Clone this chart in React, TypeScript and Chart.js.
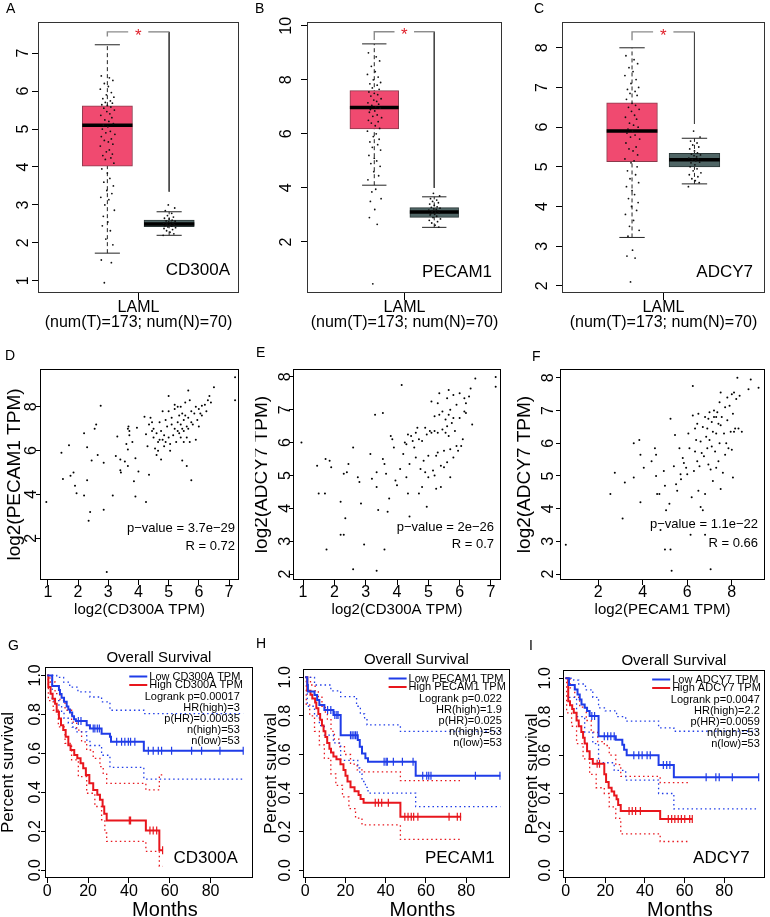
import React, { useEffect, useRef } from 'react';
import { Chart, registerables } from 'chart.js';
Chart.register(...registerables);

const FONT = '"Liberation Sans", Arial, Helvetica, sans-serif';
const BLUE = '#1f3ce8';
const RED = '#e8161d';
const TUMOR_FILL = '#f04a70';
const NORMAL_FILL = '#4f6565';

// ---------------- Row 1 : expression box plots ----------------
const BOX_CATEGORY = ['LAML', '(num(T)=173; num(N)=70)'];
const BOX_POS = [1.38, 2.61]; // tumor, normal
// [lower whisker, q1, median, q3, upper whisker]
const TUMOR_STATS_A = [1.73, 4.02, 5.1, 5.61, 7.22];
const NORMAL_STATS_A = [2.2, 2.43, 2.5, 2.6, 2.82];
const TUMOR_STATS_B = [4.1, 6.18, 6.98, 7.6, 9.33];
const NORMAL_STATS_B = [2.54, 2.91, 3.11, 3.27, 3.67];
const TUMOR_STATS_C = [3.22, 5.13, 5.9, 6.61, 8.0];
const NORMAL_STATS_C = [4.57, 5.0, 5.18, 5.34, 5.72];
// [bracket top, left leg end, right leg end]
const BRACKET_A = [7.56, 7.44, 3.35];
const BRACKET_B = [9.78, 9.47, 4.0];
const BRACKET_C = [8.4, 8.19, 6.08];
const Y_TICKS_A = [1, 2, 3, 4, 5, 6, 7];
const Y_TICKS_B = [2, 4, 6, 8, 10];
const Y_TICKS_C = [2, 3, 4, 5, 6, 7, 8];

const JITTER = [-0.12, 0.04, 0.11, -0.06, 0.02, -0.14, 0.08, -0.02, 0.13, -0.09, 0.06, -0.04, 0.1, -0.11, 0.0, 0.07,
  -0.07, 0.14, -0.01, 0.05, -0.13, 0.09, -0.05, 0.03, 0.12, -0.08, 0.01, -0.1, 0.06, -0.03, 0.15, -0.12,
  0.08, -0.06, 0.02, 0.11, -0.14, 0.04, -0.02, 0.1, -0.09, 0.07, -0.04, 0.13, -0.11, 0.0, 0.05, -0.07,
  0.12, -0.01, 0.09, -0.13, 0.03, -0.05, 0.14, -0.08, 0.01, -0.1, 0.06, -0.03, 0.11, -0.12, 0.08, -0.06];

const TUMOR_POINTS_A = [6.4, 6.35, 6.28, 6.2, 6.12, 6.05, 5.96, 5.9, 5.84, 5.8, 5.74, 5.7, 5.68, 5.64, 5.62, 5.58,
  5.55, 5.5, 5.46, 5.4, 5.36, 5.3, 5.24, 5.2, 5.14, 5.1, 5.06, 5.0, 4.94, 4.9, 4.86, 4.8, 4.74, 4.7, 4.66, 4.6,
  4.55, 4.45, 4.4, 4.34, 4.3, 4.24, 4.2, 4.1, 3.95, 3.84, 3.7, 3.6, 3.5, 3.38, 3.3, 3.2, 3.14, 3.0, 2.86, 2.7,
  2.55, 2.45, 2.32, 2.1, 1.95, 1.55, 1.48, 0.95];
const NORMAL_POINTS_A = [3.0, 2.92, 2.85, 2.78, 2.72, 2.68, 2.65, 2.63, 2.6, 2.58, 2.57, 2.55, 2.54, 2.52, 2.51,
  2.5, 2.49, 2.48, 2.47, 2.46, 2.45, 2.44, 2.42, 2.4, 2.38, 2.35, 2.32, 2.28, 2.24, 2.2];
const TUMOR_POINTS_B = [9.0, 8.85, 8.7, 8.5, 8.3, 8.2, 8.1, 8.0, 7.9, 7.85, 7.8, 7.7, 7.65, 7.55, 7.5, 7.45, 7.4,
  7.3, 7.25, 7.2, 7.15, 7.1, 7.05, 7.0, 6.95, 6.9, 6.85, 6.8, 6.7, 6.65, 6.6, 6.5, 6.45, 6.4, 6.3, 6.2, 6.1, 6.0,
  5.9, 5.8, 5.7, 5.6, 5.5, 5.4, 5.2, 5.1, 5.0, 4.9, 4.8, 4.6, 4.45, 4.3, 3.95, 3.85, 3.6, 3.5, 3.2, 2.9, 2.65, 0.45];
const NORMAL_POINTS_B = [3.8, 3.7, 3.6, 3.55, 3.5, 3.45, 3.4, 3.35, 3.3, 3.28, 3.25, 3.22, 3.2, 3.18, 3.15, 3.12,
  3.1, 3.08, 3.05, 3.02, 3.0, 2.95, 2.9, 2.85, 2.8, 2.75, 2.7, 2.62, 2.55];
const TUMOR_POINTS_C = [7.8, 7.7, 7.6, 7.5, 7.4, 7.3, 7.2, 7.1, 7.0, 6.95, 6.9, 6.85, 6.8, 6.7, 6.6, 6.55, 6.5,
  6.45, 6.4, 6.3, 6.25, 6.2, 6.1, 6.05, 6.0, 5.95, 5.9, 5.85, 5.8, 5.75, 5.7, 5.6, 5.5, 5.45, 5.4, 5.3, 5.2, 5.15,
  5.1, 5.0, 4.9, 4.8, 4.7, 4.6, 4.5, 4.4, 4.3, 4.2, 4.1, 4.0, 3.9, 3.8, 3.65, 3.5, 3.4, 3.25, 2.9, 2.75, 2.7, 2.1];
const NORMAL_POINTS_C = [5.9, 5.75, 5.65, 5.6, 5.55, 5.5, 5.45, 5.4, 5.35, 5.32, 5.3, 5.28, 5.25, 5.22, 5.2, 5.18,
  5.15, 5.12, 5.1, 5.05, 5.0, 4.95, 4.9, 4.85, 4.8, 4.75, 4.7, 4.65, 4.6, 4.5];

// ---------------- Row 2 : correlation scatter ----------------
const D_POINTS: [number, number][] = [
  [0.95, 3.65], [1.45, 5.9], [1.5, 4.7], [1.7, 6.25], [1.75, 4.85], [1.85, 5.0], [1.9, 4.4], [1.95, 4.05], [2.2, 6.8],
  [2.2, 3.95], [2.3, 6.15], [2.3, 4.65], [2.35, 2.8], [2.4, 3.2], [2.45, 5.55], [2.55, 7.0], [2.6, 7.2], [2.65, 5.8],
  [2.75, 8.05], [2.85, 5.45], [2.85, 3.3], [2.95, 0.45], [3.15, 3.95], [3.25, 5.75], [3.3, 6.65], [3.4, 5.6], [3.4, 5.1],
  [3.42, 5.0], [3.55, 5.5], [3.6, 6.3], [3.65, 7.0], [3.67, 7.1], [3.7, 6.9], [3.7, 6.7], [3.65, 6.05], [3.65, 5.3],
  [3.8, 6.4], [3.85, 4.6], [3.9, 5.65], [3.9, 3.9], [3.95, 7.05], [4.0, 5.05], [4.2, 7.55], [4.25, 6.75], [4.3, 6.2],
  [4.25, 3.65], [4.35, 7.2], [4.35, 4.9], [4.4, 7.5], [4.45, 7.3], [4.45, 6.9], [4.5, 7.0], [4.5, 6.6], [4.55, 6.1],
  [4.6, 6.8], [4.6, 5.8], [4.65, 6.4], [4.65, 6.0], [4.7, 7.3], [4.7, 6.5], [4.75, 5.6], [4.75, 6.9], [4.8, 7.8],
  [4.8, 6.5], [4.85, 6.2], [4.85, 6.7], [4.9, 7.4], [4.9, 6.4], [4.95, 7.1], [5.0, 8.5], [5.0, 7.8], [5.0, 6.6],
  [5.05, 6.3], [5.05, 6.0], [5.1, 7.2], [5.1, 7.5], [5.15, 6.7], [5.2, 7.9], [5.2, 8.1], [5.2, 7.0], [5.25, 6.4],
  [5.3, 8.0], [5.3, 7.3], [5.3, 6.9], [5.35, 7.6], [5.35, 6.8], [5.4, 8.0], [5.4, 7.2], [5.4, 6.6], [5.45, 7.7],
  [5.45, 7.0], [5.45, 5.55], [5.5, 7.4], [5.5, 6.9], [5.5, 6.4], [5.55, 8.2], [5.55, 7.6], [5.6, 7.1], [5.6, 6.6],
  [5.6, 5.3], [5.65, 8.75], [5.65, 7.5], [5.65, 7.0], [5.7, 8.3], [5.7, 6.4], [5.75, 7.3], [5.75, 7.8], [5.75, 4.65],
  [5.8, 7.2], [5.85, 7.7], [5.9, 8.0], [5.9, 6.5], [5.95, 7.4], [6.0, 7.9], [6.0, 7.1], [6.05, 7.7], [6.1, 8.05],
  [6.1, 7.6], [6.2, 8.1], [6.25, 7.8], [6.3, 8.3], [6.35, 8.5], [6.4, 8.2], [6.5, 8.9], [7.2, 9.35], [7.2, 8.3]];
const E_POINTS: [number, number][] = [
  [0.95, 6.0], [1.45, 5.3], [1.5, 4.45], [1.7, 4.45], [1.72, 5.5], [1.75, 2.75], [1.85, 5.45], [1.9, 5.25], [2.2, 4.2],
  [2.2, 3.2], [2.3, 3.2], [2.3, 5.05], [2.35, 3.7], [2.4, 5.1], [2.45, 5.35], [2.6, 5.85], [2.6, 2.15], [2.75, 4.95],
  [2.8, 4.8], [2.85, 4.15], [2.95, 2.9], [3.15, 5.65], [3.2, 4.9], [3.3, 6.85], [3.35, 5.1], [3.35, 4.65], [3.4, 3.95],
  [3.35, 2.1], [3.55, 6.9], [3.55, 5.5], [3.6, 5.35], [3.65, 5.05], [3.6, 2.75], [3.7, 3.9], [3.75, 4.3], [3.8, 6.2],
  [3.85, 6.1], [3.9, 5.85], [3.95, 4.85], [4.0, 4.7], [4.1, 5.2], [4.15, 7.75], [4.2, 5.65], [4.25, 6.0], [4.3, 5.95],
  [4.3, 4.95], [4.35, 6.25], [4.35, 4.45], [4.4, 3.75], [4.4, 5.35], [4.45, 6.2], [4.5, 6.05], [4.55, 5.85], [4.6, 6.3],
  [4.6, 5.55], [4.65, 6.45], [4.7, 6.1], [4.7, 4.45], [4.75, 5.2], [4.8, 6.05], [4.8, 4.65], [4.85, 5.45], [4.9, 6.45],
  [4.9, 5.1], [4.95, 6.25], [4.95, 4.05], [5.0, 5.6], [5.0, 4.95], [5.05, 6.35], [5.1, 7.25], [5.1, 6.3], [5.15, 5.15],
  [5.2, 6.8], [5.2, 6.35], [5.2, 5.0], [5.25, 5.6], [5.25, 4.6], [5.3, 7.2], [5.3, 6.3], [5.3, 5.7], [5.35, 7.5],
  [5.35, 6.85], [5.4, 5.3], [5.4, 4.65], [5.45, 6.95], [5.45, 6.4], [5.5, 5.75], [5.5, 5.25], [5.55, 6.7], [5.55, 6.3],
  [5.6, 7.35], [5.6, 6.5], [5.6, 5.4], [5.65, 7.6], [5.65, 6.85], [5.65, 6.2], [5.7, 7.0], [5.7, 5.8], [5.7, 4.95],
  [5.75, 6.6], [5.8, 7.45], [5.8, 6.75], [5.8, 5.55], [5.85, 6.35], [5.9, 7.15], [5.9, 5.9], [5.95, 5.75], [6.0, 7.5],
  [6.0, 6.75], [6.05, 5.9], [6.1, 6.1], [6.15, 7.35], [6.15, 6.95], [6.2, 7.2], [6.2, 6.9], [6.3, 7.4], [6.35, 7.65],
  [6.4, 6.55], [6.5, 7.95], [7.15, 8.0], [7.15, 7.7]];
const F_POINTS: [number, number][] = [
  [0.55, 2.9], [2.55, 4.45], [2.75, 5.1], [3.1, 3.7], [3.2, 4.8], [3.6, 6.0], [3.6, 4.95], [3.85, 6.1], [3.9, 5.65],
  [3.9, 4.2], [4.05, 5.25], [4.4, 5.45], [4.55, 5.85], [4.6, 5.65], [4.6, 5.0], [4.65, 4.45], [4.75, 4.45], [4.8, 3.35],
  [4.95, 5.15], [5.0, 4.7], [5.05, 3.95], [5.0, 2.75], [5.2, 4.15], [5.25, 6.75], [5.25, 2.75], [5.3, 2.1], [5.4, 5.3],
  [5.45, 6.25], [5.5, 4.75], [5.55, 4.55], [5.65, 5.85], [5.7, 5.05], [5.72, 4.9], [5.8, 5.55], [5.85, 5.4], [5.95, 5.25],
  [6.0, 5.05], [6.05, 6.3], [6.1, 5.85], [6.15, 3.2], [6.2, 4.35], [6.25, 7.75], [6.25, 6.85], [6.3, 5.15], [6.35, 6.45],
  [6.35, 5.75], [6.4, 6.1], [6.45, 6.6], [6.45, 5.45], [6.5, 6.9], [6.5, 4.55], [6.55, 5.3], [6.6, 6.05], [6.6, 4.05],
  [6.65, 5.7], [6.7, 6.5], [6.7, 3.95], [6.75, 5.6], [6.8, 6.8], [6.8, 4.45], [6.8, 3.2], [6.85, 6.2], [6.9, 5.85],
  [6.9, 6.45], [6.95, 6.75], [6.95, 5.35], [7.0, 6.95], [7.0, 6.1], [7.05, 5.2], [7.05, 2.15], [7.1, 6.65], [7.1, 5.9],
  [7.15, 6.35], [7.15, 4.85], [7.2, 6.8], [7.2, 7.0], [7.25, 5.75], [7.3, 6.3], [7.3, 5.25], [7.3, 6.8], [7.35, 6.95],
  [7.4, 6.6], [7.4, 5.45], [7.45, 7.25], [7.45, 6.0], [7.5, 7.55], [7.5, 6.55], [7.5, 4.6], [7.55, 6.8], [7.6, 5.1],
  [7.65, 6.3], [7.7, 7.1], [7.7, 5.65], [7.75, 6.0], [7.8, 7.4], [7.8, 6.7], [7.85, 5.85], [7.9, 7.15], [7.95, 6.35],
  [8.0, 7.5], [8.0, 5.8], [8.05, 6.9], [8.05, 4.95], [8.1, 7.55], [8.1, 6.35], [8.15, 6.45], [8.2, 7.35], [8.25, 8.0],
  [8.3, 6.45], [8.35, 7.45], [8.45, 6.35], [8.75, 7.65], [8.85, 7.95], [9.2, 7.7]];
const D_X_TICKS = [1, 2, 3, 4, 5, 6, 7];
const D_Y_TICKS = [2, 4, 6, 8];
const E_X_TICKS = [1, 2, 3, 4, 5, 6, 7];
const E_Y_TICKS = [2, 3, 4, 5, 6, 7, 8];
const F_X_TICKS = [2, 4, 6, 8];
const F_Y_TICKS = [2, 3, 4, 5, 6, 7, 8];

// ---------------- Row 3 : survival ----------------
const SURV_X_TICKS = [0, 20, 40, 60, 80];
const SURV_Y_TICKS = [0, 0.2, 0.4, 0.6, 0.8, 1.0];

const LOW_G: [number, number][] = [[0, 1], [2.4, 0.945], [5.7, 0.925], [6.2, 0.905], [7.0, 0.885], [8.2, 0.865], [9.5, 0.84],
  [10.3, 0.825], [11.1, 0.81], [12.2, 0.79], [13.1, 0.775], [14.0, 0.766], [19.3, 0.744], [20.9, 0.727], [26.6, 0.7],
  [30.7, 0.685], [31.2, 0.659], [47.3, 0.613], [96, 0.613]];
const HIGH_G: [number, number][] = [[0, 1], [0.5, 0.94], [1.6, 0.906], [2.6, 0.88], [3.8, 0.855], [4.6, 0.813], [5.7, 0.779],
  [6.7, 0.744], [7.8, 0.719], [9.0, 0.685], [10.3, 0.642], [11.4, 0.617], [13.2, 0.591], [14.7, 0.574], [16.3, 0.549],
  [17.6, 0.523], [18.9, 0.489], [20.6, 0.446], [22.5, 0.412], [24.5, 0.387], [25.8, 0.361], [27.1, 0.327], [27.9, 0.29],
  [29.1, 0.255], [48.3, 0.204], [54.9, 0.102], [56.5, 0.102]];
const LOW_G_CENSOR = [15.2, 16.5, 22.5, 23.3, 24.5, 25.5, 34, 36.4, 38, 39.7, 40.8, 42.9, 49.5, 51.9, 54.4, 56, 60.9, 70.7, 75.6, 84.6, 96];
const HIGH_G_CENSOR = [40.2, 40.8, 50.3, 51.9, 53.6, 56.5];
const LOW_G_UPPER: [number, number][] = [[0, 1], [4.6, 0.99], [8, 0.965], [11, 0.94], [15, 0.915], [20.9, 0.889], [26.6, 0.864],
  [30.7, 0.821], [47.3, 0.804], [96, 0.804]];
const LOW_G_LOWER: [number, number][] = [[0, 1], [2.4, 0.87], [5.7, 0.84], [7, 0.81], [8.2, 0.78], [10.3, 0.755], [12.2, 0.735],
  [14, 0.71], [19.3, 0.668], [20.9, 0.64], [26.6, 0.59], [30.7, 0.528], [47.3, 0.468], [96, 0.468]];
const HIGH_G_UPPER: [number, number][] = [[0, 1], [1.3, 0.966], [3.8, 0.906], [6.2, 0.872], [8.7, 0.821], [11.9, 0.76],
  [14.4, 0.719], [16.8, 0.659], [19.3, 0.617], [22.5, 0.574], [25.8, 0.532], [27.4, 0.497], [29.1, 0.446], [48.3, 0.412],
  [54.9, 0.489], [56.5, 0.489]];
const HIGH_G_LOWER: [number, number][] = [[0, 1], [0.5, 0.87], [2.9, 0.821], [5.4, 0.736], [8.7, 0.651], [11.9, 0.566],
  [15.2, 0.48], [19.3, 0.395], [23.3, 0.327], [26.6, 0.259], [28.2, 0.191], [29.1, 0.148], [48.3, 0.097], [54.9, 0.02],
  [56.5, 0.02]];

const LOW_H: [number, number][] = [[0, 1], [1, 0.96], [1.3, 0.926], [4.6, 0.908], [5.9, 0.882], [7, 0.856], [9.5, 0.83],
  [14, 0.805], [17.6, 0.7], [26.1, 0.675], [27.1, 0.64], [28.2, 0.605], [29.9, 0.58], [31.2, 0.562], [54.9, 0.49], [97, 0.49]];
const HIGH_H: [number, number][] = [[0, 1], [1, 0.93], [2.6, 0.91], [3.5, 0.89], [4.9, 0.87], [5.5, 0.84], [6.5, 0.81],
  [7.4, 0.78], [8.3, 0.75], [9.1, 0.72], [10, 0.69], [10.9, 0.66], [12, 0.63], [12.8, 0.61], [14, 0.59], [15.5, 0.575],
  [17.5, 0.55], [19, 0.52], [20, 0.49], [21, 0.46], [22.5, 0.43], [24.5, 0.41], [26.5, 0.39], [27.5, 0.37], [29, 0.35],
  [47.3, 0.277], [77.5, 0.277]];
const LOW_H_CENSOR = [11.1, 12.7, 14.7, 15.7, 16.3, 22.5, 23.3, 24.2, 25, 25.8, 39.2, 40.2, 40.8, 43.8, 48.3, 53.6, 58.4,
  60.4, 61.4, 62.5, 84.6, 96.8];
const HIGH_H_CENSOR = [34.8, 36.4, 38, 41.3, 49.5, 51.1, 52.7, 53.9, 56, 71.5, 75.6, 77.2];
const LOW_H_UPPER: [number, number][] = [[0, 1], [4.6, 0.96], [12.7, 0.93], [17.6, 0.9], [25.5, 0.85], [27.4, 0.81],
  [29.5, 0.78], [30.7, 0.753], [47.3, 0.72], [97, 0.72]];
const LOW_H_LOWER: [number, number][] = [[0, 1], [1, 0.85], [4.6, 0.8], [7, 0.75], [9.5, 0.7], [14, 0.66], [17.6, 0.57],
  [26.1, 0.53], [27.1, 0.5], [28.2, 0.46], [29.9, 0.43], [31.2, 0.4], [54.9, 0.33], [97, 0.33]];
const HIGH_H_UPPER: [number, number][] = [[0, 1], [2.6, 0.96], [4.9, 0.93], [6.5, 0.9], [8.3, 0.85], [10, 0.81], [11, 0.78],
  [12.8, 0.72], [14.5, 0.68], [16.8, 0.64], [19.5, 0.6], [22.5, 0.55], [25.8, 0.52], [29, 0.51], [47.3, 0.465], [77.5, 0.465]];
const HIGH_H_LOWER: [number, number][] = [[0, 1], [0.5, 0.86], [2.2, 0.8], [4.6, 0.72], [7, 0.65], [9.5, 0.58], [12.7, 0.5],
  [15.2, 0.44], [18.5, 0.38], [21.7, 0.32], [25, 0.27], [28.2, 0.235], [47.3, 0.16], [77.5, 0.16]];

const LOW_I: [number, number][] = [[0, 1], [1.7, 0.965], [4.6, 0.942], [6, 0.916], [7.1, 0.89], [8, 0.864], [9.6, 0.846],
  [10.8, 0.829], [12.1, 0.803], [16.6, 0.698], [25.3, 0.68], [28.6, 0.654], [29.5, 0.628], [30.8, 0.599], [46.9, 0.548],
  [54.6, 0.485], [97.4, 0.485]];
const HIGH_I: [number, number][] = [[0, 1], [1.3, 0.88], [2.2, 0.86], [3.3, 0.84], [4.1, 0.82], [5.5, 0.78], [6.6, 0.75],
  [7.9, 0.72], [8.8, 0.69], [9.6, 0.66], [10.8, 0.62], [12.1, 0.58], [13.7, 0.555], [19.5, 0.5], [20.4, 0.46], [21.7, 0.43],
  [23.2, 0.41], [24.5, 0.39], [25.7, 0.37], [26.5, 0.34], [27.8, 0.309], [47.7, 0.267], [63.9, 0.267]];
const LOW_I_CENSOR = [13.2, 14.6, 19.5, 21.2, 22.8, 24.5, 34.4, 36.9, 38.6, 41.1, 42.7, 49.3, 51, 52.6, 70.9, 75.8, 77.5, 84.1, 97.4];
const HIGH_I_CENSOR = [15.9, 17.1, 32, 33.6, 35.3, 37.7, 51.8, 53.5, 55.1, 56.8, 58.4, 60.1, 62.6, 63.9];
const LOW_I_UPPER: [number, number][] = [[0, 1], [4.1, 0.99], [6.6, 0.97], [10, 0.94], [13.7, 0.9], [16.6, 0.846], [20, 0.83],
  [25.7, 0.8], [30.3, 0.777], [46.9, 0.742], [54.6, 0.724], [97.4, 0.724]];
const LOW_I_LOWER: [number, number][] = [[0, 1], [1.3, 0.9], [5.5, 0.8], [9.6, 0.72], [13.7, 0.66], [16.6, 0.56], [24.5, 0.52],
  [30.3, 0.47], [46.9, 0.4], [54.6, 0.32], [97.4, 0.32]];
const HIGH_I_UPPER: [number, number][] = [[0, 1], [0.5, 1], [2.2, 0.95], [4.6, 0.9], [7.1, 0.85], [10.4, 0.78], [12.9, 0.72],
  [16.2, 0.67], [19.5, 0.65], [22, 0.6], [25.3, 0.55], [27.8, 0.489], [47.7, 0.457], [62.6, 0.457]];
const HIGH_I_LOWER: [number, number][] = [[0, 1], [0.5, 0.82], [3, 0.75], [5.5, 0.66], [8.8, 0.58], [12.1, 0.5], [15.4, 0.43],
  [19.5, 0.4], [22, 0.33], [25.3, 0.27], [27.8, 0.19], [47.7, 0.15], [62.6, 0.15]];

const STATS_G = ['Logrank p=0.00017', 'HR(high)=3', 'p(HR)=0.00035', 'n(high)=53', 'n(low)=53'];
const STATS_H = ['Logrank p=0.022', 'HR(high)=1.9', 'p(HR)=0.025', 'n(high)=53', 'n(low)=53'];
const STATS_I = ['Logrank p=0.0047', 'HR(high)=2.2', 'p(HR)=0.0059', 'n(high)=53', 'n(low)=53'];

// ---------------- layout ----------------
type Geo = { x: number; y: number; w: number; h: number; pl: number; pr: number; pt: number; pb: number };

const GEO_A: Geo = { x: 0, y: 0, w: 255, h: 335, pl: 38, pr: 239, pt: 22, pb: 293 };
const GEO_B: Geo = { x: 255, y: 0, w: 255, h: 335, pl: 52, pr: 247, pt: 22, pb: 293 };
const GEO_C: Geo = { x: 510, y: 0, w: 260, h: 335, pl: 52, pr: 255, pt: 22, pb: 293 };
const GEO_D: Geo = { x: 0, y: 335, w: 255, h: 290, pl: 40, pr: 239, pt: 34, pb: 245 };
const GEO_E: Geo = { x: 255, y: 335, w: 255, h: 290, pl: 38, pr: 246, pt: 34, pb: 245 };
const GEO_F: Geo = { x: 510, y: 335, w: 260, h: 290, pl: 50, pr: 255, pt: 34, pb: 245 };
const GEO_G: Geo = { x: 0, y: 625, w: 258, h: 292, pl: 45, pr: 253, pt: 42, pb: 253 };
const GEO_H: Geo = { x: 258, y: 625, w: 257, h: 292, pl: 45, pr: 255, pt: 44, pb: 253 };
const GEO_I: Geo = { x: 515, y: 625, w: 255, h: 292, pl: 48, pr: 253, pt: 45, pb: 253 };

const LETTERS = [
  { t: 'A', x: 11, y: 8 }, { t: 'B', x: 260, y: 8 }, { t: 'C', x: 539, y: 8 },
  { t: 'D', x: 10, y: 355 }, { t: 'E', x: 261, y: 352 }, { t: 'F', x: 537, y: 356 },
  { t: 'G', x: 13, y: 645 }, { t: 'H', x: 261, y: 643 }, { t: 'I', x: 534, y: 645 },
];

const BOX_PANELS = [
  { geo: GEO_A, gene: 'CD300A', yMin: 0.68, yMax: 7.82, yTicks: Y_TICKS_A, tumor: TUMOR_STATS_A, normal: NORMAL_STATS_A,
    tPts: TUMOR_POINTS_A, nPts: NORMAL_POINTS_A, bracket: BRACKET_A, tickPad: 4.3, geneDx: 9, geneDy: 23 },
  { geo: GEO_B, gene: 'PECAM1', yMin: 0.11, yMax: 10.14, yTicks: Y_TICKS_B, tumor: TUMOR_STATS_B, normal: NORMAL_STATS_B,
    tPts: TUMOR_POINTS_B, nPts: NORMAL_POINTS_B, bracket: BRACKET_B, tickPad: 5.4, geneDx: 10, geneDy: 21 },
  { geo: GEO_C, gene: 'ADCY7', yMin: 1.82, yMax: 8.65, yTicks: Y_TICKS_C, tumor: TUMOR_STATS_C, normal: NORMAL_STATS_C,
    tPts: TUMOR_POINTS_C, nPts: NORMAL_POINTS_C, bracket: BRACKET_C, tickPad: 8.7, geneDx: 12, geneDy: 21 },
];

const SCATTER_PANELS = [
  { geo: GEO_D, pts: D_POINTS, xMin: 0.74, xMax: 7.33, yMin: 0.09, yMax: 9.73, xTicks: D_X_TICKS, yTicks: D_Y_TICKS,
    xTitle: 'log2(CD300A TPM)', yTitle: 'log2(PECAM1 TPM)', yTitlePad: 5.5, tickPad: -0.5,
    texts: ['p\u2212value = 3.7e\u221229', 'R = 0.72'], tDx: 4, tDy: [52, 34] },
  { geo: GEO_E, pts: E_POINTS, xMin: 0.68, xMax: 7.32, yMin: 1.82, yMax: 8.24, xTicks: E_X_TICKS, yTicks: E_Y_TICKS,
    xTitle: 'log2(CD300A TPM)', yTitle: 'log2(ADCY7 TPM)', yTitlePad: -2.5, tickPad: -1.5,
    texts: ['p\u2212value = 2e\u221226', 'R = 0.7'], tDx: 7, tDy: [53, 36] },
  { geo: GEO_F, pts: F_POINTS, xMin: 0.29, xMax: 9.49, yMin: 1.82, yMax: 8.27, xTicks: F_X_TICKS, yTicks: F_Y_TICKS,
    xTitle: 'log2(PECAM1 TPM)', yTitle: 'log2(ADCY7 TPM)', yTitlePad: 5.5, tickPad: 3.2,
    texts: ['p\u2212value = 1.1e\u221222', 'R = 0.66'], tDx: 7, tDy: [56, 37] },
];

const SURV_PANELS = [
  { geo: GEO_G, gene: 'CD300A', xMin: -1.13, xMax: 100.7, low: LOW_G, high: HIGH_G, lowC: LOW_G_CENSOR, highC: HIGH_G_CENSOR,
    lowU: LOW_G_UPPER, lowL: LOW_G_LOWER, highU: HIGH_G_UPPER, highL: HIGH_G_LOWER, stats: STATS_G,
    tickPad: -5.6, yTitlePad: -0.5, legInset: 10, statInset: 13 },
  { geo: GEO_H, gene: 'PECAM1', xMin: -1.13, xMax: 101.7, low: LOW_H, high: HIGH_H, lowC: LOW_H_CENSOR, highC: HIGH_H_CENSOR,
    lowU: LOW_H_UPPER, lowL: LOW_H_LOWER, highU: HIGH_H_UPPER, highL: HIGH_H_LOWER, stats: STATS_H,
    tickPad: 1.9, yTitlePad: 5, legInset: 4, statInset: 8 },
  { geo: GEO_I, gene: 'ADCY7', xMin: -1.34, xMax: 100.5, low: LOW_I, high: HIGH_I, lowC: LOW_I_CENSOR, highC: HIGH_I_CENSOR,
    lowU: LOW_I_UPPER, lowL: LOW_I_LOWER, highU: HIGH_I_UPPER, highL: HIGH_I_LOWER, stats: STATS_I,
    tickPad: 2.4, yTitlePad: 9, legInset: 4, statInset: 5 },
];

// ---------------- helpers ----------------
function txt(ctx: CanvasRenderingContext2D, s: string, x: number, y: number, size: number,
  align: CanvasTextAlign = 'left', color = '#000') {
  ctx.font = `${size}px ${FONT}`;
  ctx.fillStyle = color;
  ctx.textAlign = align;
  ctx.textBaseline = 'middle';
  ctx.fillText(s, x, y);
}

function frame(chart: any, color = '#000') {
  const { left, top, right, bottom } = chart.chartArea;
  const ctx = chart.ctx;
  ctx.save();
  ctx.strokeStyle = color;
  ctx.lineWidth = 1;
  ctx.strokeRect(Math.round(left) + 0.5, Math.round(top) + 0.5, Math.round(right - left) - 1, Math.round(bottom - top) - 1);
  ctx.restore();
}

function base(geo: Geo, draw: (chart: any) => void) {
  return {
    options: {
      responsive: false,
      animation: false,
      events: [],
      layout: { padding: { left: 0, top: geo.pt, right: geo.w - geo.pr, bottom: 0 } },
      plugins: { legend: { display: false }, tooltip: { enabled: false }, title: { display: false } },
    },
    plugins: [{ id: 'deco', afterDraw: (chart: any) => draw(chart) }],
  };
}

function axis(geo: Geo, dir: 'x' | 'y', o: any) {
  const a: any = {
    type: 'linear',
    position: dir === 'x' ? 'bottom' : 'left',
    min: o.min,
    max: o.max,
    bounds: 'data',
    offset: false,
    afterBuildTicks: (s: any) => { s.ticks = o.ticks.map((v: number) => ({ value: v })); },
    afterFit: (s: any) => { if (dir === 'x') s.height = geo.h - geo.pb; else s.width = geo.pl; },
    grid: { display: true, drawOnChartArea: false, drawTicks: true, tickLength: o.tl, color: '#000', offset: false },
    border: { display: false },
    ticks: {
      autoSkip: false,
      padding: o.pad,
      color: '#000',
      font: { size: o.size || 16, family: FONT, lineHeight: o.lh || 1 },
      callback: o.fmt || ((v: number) => String(v)),
    },
    title: o.title
      ? { display: true, text: o.title, color: '#000', font: { size: o.titleSize, family: FONT, lineHeight: 1 },
          padding: dir === 'x' ? { top: 0, bottom: o.titlePad } : { top: o.titlePad, bottom: 0 } }
      : { display: false },
  };
  if (dir === 'y') {
    a.ticks.minRotation = 90;
    a.ticks.maxRotation = 90;
    a.ticks.crossAlign = 'center';
  } else {
    a.ticks.minRotation = 0;
    a.ticks.maxRotation = 0;
  }
  return a;
}

function survAt(curve: [number, number][], t: number) {
  let v = curve[0][1];
  for (const [x, y] of curve) if (x <= t) v = y;
  return v;
}

// ---------------- chart configs ----------------
function boxConfig(p: typeof BOX_PANELS[number]) {
  const g = p.geo;
  const [tPos, nPos] = BOX_POS;
  const mid = (tPos + nPos) / 2;
  const CAP = 0.25;
  const HALF = 0.5;
  const line = (data: any[], color: string, width: number, dash: number[], order: number) => ({
    type: 'line', data, borderColor: color, borderWidth: width, borderDash: dash, pointRadius: 0, fill: false, tension: 0, order,
  });
  const ds: any[] = [];
  ([[tPos, p.tumor], [nPos, p.normal]] as [number, number[]][]).forEach(([pos, s]) => {
    ds.push(line([{ x: pos, y: s[0] }, { x: pos, y: s[4] }], '#222', 1, [4, 3], 10));
    ds.push(line([{ x: pos - CAP, y: s[4] }, { x: pos + CAP, y: s[4] }], '#222', 1, [], 9));
    ds.push(line([{ x: pos - CAP, y: s[0] }, { x: pos + CAP, y: s[0] }], '#222', 1, [], 9));
    ds.push(line([{ x: pos - HALF, y: s[2] }, { x: pos + HALF, y: s[2] }], '#000', 3.5, [], 3));
  });
  ds.push({
    type: 'bar',
    data: [{ x: tPos, y: [p.tumor[1], p.tumor[3]] }, { x: nPos, y: [p.normal[1], p.normal[3]] }],
    backgroundColor: [TUMOR_FILL, NORMAL_FILL],
    borderColor: ['#8a3a4c', '#2b3838'],
    borderWidth: 1,
    borderSkipped: false,
    barThickness: (g.pr - g.pl) / 4,
    order: 5,
  });
  const [top, leftEnd, rightEnd] = p.bracket;
  ds.push(line([{ x: tPos, y: leftEnd }, { x: tPos, y: top }, { x: mid - 0.2, y: top }], '#8c8c8c', 1.4, [], 2));
  ds.push(line([{ x: mid + 0.2, y: top }, { x: nPos, y: top }], '#8c8c8c', 1.4, [], 2));
  ds.push(line([{ x: nPos, y: top }, { x: nPos, y: rightEnd }], '#444', 1, [], 2));
  ds.push({ type: 'scatter', data: p.tPts.map((y, i) => ({ x: tPos + JITTER[i % JITTER.length], y })),
    pointRadius: 0.9, pointBackgroundColor: '#111', pointBorderWidth: 0, order: 1 });
  ds.push({ type: 'scatter', data: p.nPts.map((y, i) => ({ x: nPos + JITTER[(i + 7) % JITTER.length] * 0.85, y })),
    pointRadius: 0.9, pointBackgroundColor: '#111', pointBorderWidth: 0, order: 1 });

  const b = base(g, (chart) => {
    frame(chart, '#333');
    const { right, bottom } = chart.chartArea;
    const ctx = chart.ctx;
    const sx = chart.scales.x, sy = chart.scales.y;
    txt(ctx, '*', sx.getPixelForValue(mid), sy.getPixelForValue(top) + 4, 17, 'center', '#e0202a');
    txt(ctx, p.gene, right - p.geneDx, bottom - p.geneDy, 17, 'right');
  });
  return {
    type: 'bar',
    data: { datasets: ds },
    plugins: b.plugins,
    options: {
      ...b.options,
      indexAxis: 'x',
      scales: {
        x: axis(g, 'x', { min: 0, max: 4, ticks: [2], tl: 7, pad: 0, lh: 0.94, fmt: () => BOX_CATEGORY }),
        y: axis(g, 'y', { min: p.yMin, max: p.yMax, ticks: p.yTicks, tl: 6, pad: p.tickPad }),
      },
    },
  };
}

function scatterConfig(p: typeof SCATTER_PANELS[number]) {
  const g = p.geo;
  const b = base(g, (chart) => {
    frame(chart);
    const { right, bottom } = chart.chartArea;
    txt(chart.ctx, p.texts[0], right - p.tDx, bottom - p.tDy[0], 13, 'right');
    txt(chart.ctx, p.texts[1], right - p.tDx, bottom - p.tDy[1], 13, 'right');
  });
  return {
    type: 'scatter',
    data: { datasets: [{ data: p.pts.map(([x, y]) => ({ x, y })), pointRadius: 1, pointBackgroundColor: '#000', pointBorderWidth: 0 }] },
    plugins: b.plugins,
    options: {
      ...b.options,
      scales: {
        x: axis(g, 'x', { min: p.xMin, max: p.xMax, ticks: p.xTicks, tl: 5, pad: 0, title: p.xTitle, titleSize: 15, titlePad: 7.5 }),
        y: axis(g, 'y', { min: p.yMin, max: p.yMax, ticks: p.yTicks, tl: 4, pad: p.tickPad, title: p.yTitle, titleSize: 19, titlePad: p.yTitlePad }),
      },
    },
  };
}

function survConfig(p: typeof SURV_PANELS[number]) {
  const g = p.geo;
  const step = (pts: [number, number][], color: string, width: number, dash: number[], order: number) => ({
    type: 'line', data: pts.map(([x, y]) => ({ x, y })), borderColor: color, borderWidth: width, borderDash: dash,
    stepped: 'before', pointRadius: 0, fill: false, order,
  });
  const cens = (times: number[], curve: [number, number][], color: string) => ({
    type: 'scatter', data: times.map((t) => ({ x: t, y: survAt(curve, t) })), pointStyle: 'line', pointRotation: 90,
    pointRadius: 4, pointBorderColor: color, pointBorderWidth: 1.2, order: 1,
  });
  const ds = [
    step(p.lowU, BLUE, 1.3, [1.5, 3], 6),
    step(p.lowL, BLUE, 1.3, [1.5, 3], 6),
    step(p.highU, RED, 1.3, [1.5, 3], 6),
    step(p.highL, RED, 1.3, [1.5, 3], 6),
    step(p.low, BLUE, 2, [], 3),
    step(p.high, RED, 2, [], 3),
    cens(p.lowC, p.low, BLUE),
    cens(p.highC, p.high, RED),
  ];
  const b = base(g, (chart) => {
    frame(chart);
    const { left, right, top, bottom } = chart.chartArea;
    const ctx = chart.ctx;
    txt(ctx, 'Overall Survival', (left + right) / 2 + 10, top - 9, 15, 'center');
    ctx.font = `11px ${FONT}`;
    const labels = [`Low ${p.gene} TPM`, `High ${p.gene} TPM`];
    const widest = Math.max(...labels.map((s) => ctx.measureText(s).width));
    const tx = right - p.legInset - widest;
    [BLUE, RED].forEach((c, i) => {
      const y = top + 9.5 + i * 8.5;
      ctx.save();
      ctx.strokeStyle = c;
      ctx.lineWidth = 2;
      ctx.beginPath();
      ctx.moveTo(tx - 20, y);
      ctx.lineTo(tx - 2, y);
      ctx.stroke();
      ctx.restore();
      txt(ctx, labels[i], tx, y, 11, 'left');
    });
    p.stats.forEach((s, i) => txt(ctx, s, right - p.statInset, top + 29.5 + i * 11.1, 11, 'right'));
    txt(ctx, p.gene, right - 15, bottom - 20, 17, 'right');
    txt(ctx, 'Months', (left + right) / 2 + 16, g.h - 7, 20, 'center');
  });
  return {
    type: 'line',
    data: { datasets: ds },
    plugins: b.plugins,
    options: {
      ...b.options,
      scales: {
        x: axis(g, 'x', { min: p.xMin, max: p.xMax, ticks: SURV_X_TICKS, tl: 5, pad: 1 }),
        y: axis(g, 'y', { min: -0.04, max: 1.043, ticks: SURV_Y_TICKS, tl: 4, pad: p.tickPad,
          fmt: (v: number) => v.toFixed(1), title: 'Percent survival', titleSize: 17, titlePad: p.yTitlePad }),
      },
    },
  };
}

function ChartCanvas({ geo, make }: { geo: Geo; make: () => any }) {
  const ref = useRef<HTMLCanvasElement>(null);
  useEffect(() => {
    const chart = new Chart(ref.current as HTMLCanvasElement, make());
    return () => chart.destroy();
  }, []);
  return (
    <canvas ref={ref} width={geo.w} height={geo.h}
      style={{ position: 'absolute', left: geo.x, top: geo.y, width: geo.w, height: geo.h }} />
  );
}

export default function App() {
  return (
    <div style={{ position: 'absolute', left: 0, top: 0, width: 770, height: 917, background: '#fff', overflow: 'hidden', fontFamily: FONT }}>
      {BOX_PANELS.map((p, i) => <ChartCanvas key={'box' + i} geo={p.geo} make={() => boxConfig(p)} />)}
      {SCATTER_PANELS.map((p, i) => <ChartCanvas key={'sc' + i} geo={p.geo} make={() => scatterConfig(p)} />)}
      {SURV_PANELS.map((p, i) => <ChartCanvas key={'sv' + i} geo={p.geo} make={() => survConfig(p)} />)}
      {LETTERS.map((l) => (
        <div key={l.t} style={{ position: 'absolute', left: l.x - 5, top: l.y - 8, fontSize: 14, lineHeight: '16px', color: '#000' }}>{l.t}</div>
      ))}
    </div>
  );
}
